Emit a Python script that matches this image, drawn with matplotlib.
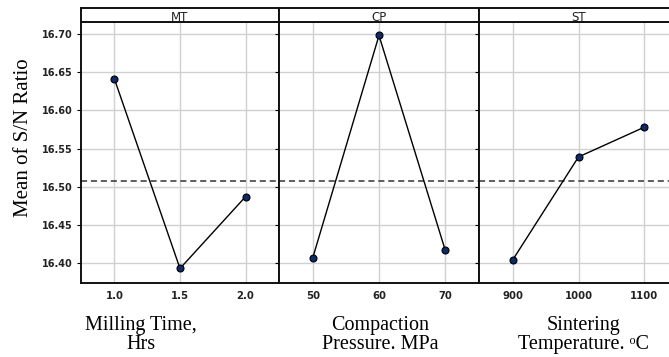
import matplotlib.pyplot as plt
import numpy as np

# Données
facteurs = ['MT', 'CP', 'ST']
niveaux_mt = ['1.0', '1.5', '2.0']
niveaux_cp = ['50', '60', '70']
niveaux_st = ['900', '1000', '1100']
sn_mt = [16.641, 16.393, 16.487]
sn_cp = [16.407, 16.698, 16.417]
sn_st = [16.404, 16.539, 16.578]
moyenne = 16.507
titres_x = ['Milling Time,\nHrs', 'Compaction\nPressure. MPa', 'Sintering\nTemperature. \u1d52C']
yticks = [16.40, 16.45, 16.50, 16.55, 16.60, 16.65, 16.70]

W, H = 669, 357
fig = plt.figure(figsize=(W / 100, H / 100), dpi=100)

# position des panneaux en pixels (gauche, droite)
bords = [(81, 279), (279, 479), (479, 678)]
haut, bas, haut_bande = 21.7, 283, 8

niveaux = [niveaux_mt, niveaux_cp, niveaux_st]
valeurs = [sn_mt, sn_cp, sn_st]
centres_titre = [141, 380, 584]

for i in range(3):
    g, d = bords[i]
    ax = fig.add_axes([g / W, (H - bas) / H, (d - g) / W, (bas - haut) / H])
    x = np.arange(len(niveaux[i]))
    ax.grid(True, color='#d0d0d0', linewidth=1.0)
    ax.set_axisbelow(True)
    ax.axhline(moyenne, color='#333333', linestyle=(0, (4, 2.5)), linewidth=1.1, zorder=2)
    ax.plot(x, valeurs[i], color='black', linewidth=1.0, zorder=3)
    ax.plot(x, valeurs[i], 'o', markersize=5, markerfacecolor='#0d2a6b',
            markeredgecolor='black', markeredgewidth=0.8, zorder=4)
    ax.set_xlim(-0.51, 2.51)
    ax.set_ylim(16.374, 16.716)
    ax.set_xticks(x)
    ax.set_xticklabels(niveaux[i], fontsize=7.3, fontweight='bold', color='#222222')
    ax.set_yticks(yticks)
    if i == 0:
        ax.set_yticklabels(['%.2f' % v for v in yticks], fontsize=7,
                           fontweight='bold', color='#222222')
    else:
        ax.set_yticklabels([])
        ax.tick_params(axis='y', length=0)
    ax.tick_params(axis='x', length=0, pad=6)
    ax.tick_params(axis='y', length=3, pad=3)
    for s in ax.spines.values():
        s.set_linewidth(1.4)
        s.set_color('#111111')

    # bande de titre
    bande = fig.add_axes([g / W, (H - haut) / H, (d - g) / W, (haut - haut_bande) / H])
    bande.set_xticks([])
    bande.set_yticks([])
    for s in bande.spines.values():
        s.set_linewidth(1.4)
        s.set_color('#111111')
    bande.text(0.5, 0.3, facteurs[i], ha='center', va='center', fontsize=8.5,
               color='#222222', transform=bande.transAxes)

    fig.text(centres_titre[i] / W, (H - 335) / H, titres_x[i], ha='center', va='center',
             fontsize=14.5, family='Liberation Serif', linespacing=0.95)

fig.text(24 / W, (H - 138) / H, 'Mean of S/N Ratio', rotation=90, ha='center',
         va='center', fontsize=15, family='Liberation Serif')

fig.savefig('out.png', dpi=100)
